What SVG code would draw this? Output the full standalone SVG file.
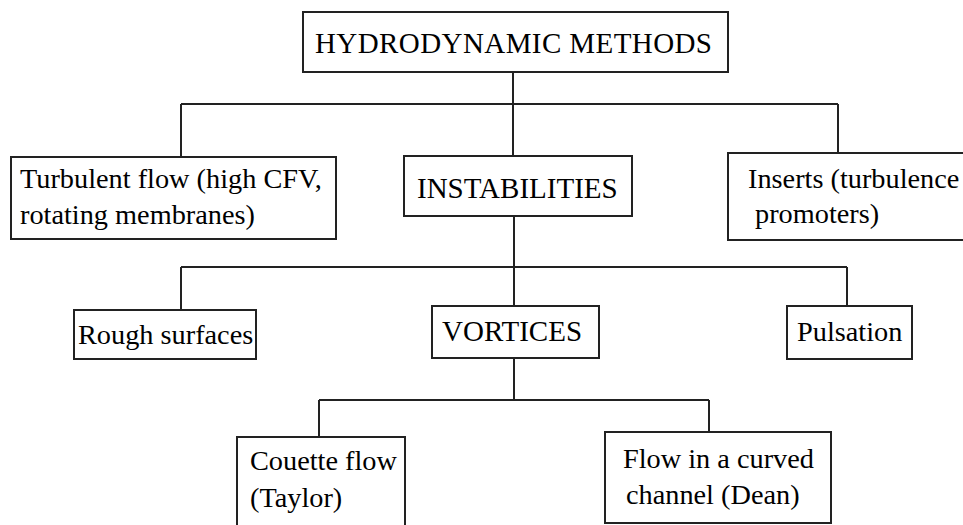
<svg xmlns="http://www.w3.org/2000/svg" width="963" height="525" viewBox="0 0 963 525">
<style>
.box{fill:#fff;stroke:#222;stroke-width:2}
.ln{fill:none;stroke:#222;stroke-width:2}
.t{font-size:28.3px;fill:#000}
.cap{font-size:29px}
</style>
<rect width="963" height="525" fill="#fff"/>
<g id="connectors">
<path class="ln" d="M513 72V104M181 104H838M181 104V157M513 104V156M838 104V153"/>
<path class="ln" d="M514 216V267M181 267H847M181 267V310M514 267V306M847 267V306"/>
<path class="ln" d="M514 358V400M319 400H709M319 400V437M709 400V432"/>
</g>
<g font-family="Liberation Serif, DejaVu Serif, serif" class="t">
<g id="hydrodynamic">
<rect class="box" x="303" y="12" width="425" height="60"/>
<text class="cap" x="315" y="53" textLength="397">HYDRODYNAMIC METHODS</text>
</g>
<g id="turbulent">
<rect class="box" x="11" y="157" width="325" height="82"/>
<text x="20" y="188">Turbulent flow (high CFV,</text>
<text x="20" y="224">rotating membranes)</text>
</g>
<g id="instabilities">
<rect class="box" x="404" y="156" width="228" height="60"/>
<text class="cap" x="417" y="198">INSTABILITIES</text>
</g>
<g id="inserts">
<rect class="box" x="728" y="153" width="245" height="87"/>
<text x="748" y="188">Inserts (turbulence</text>
<text x="755" y="223">promoters)</text>
</g>
<g id="rough">
<rect class="box" x="74" y="310" width="182" height="49"/>
<text x="78" y="344">Rough surfaces</text>
</g>
<g id="vortices">
<rect class="box" x="432" y="306" width="167" height="52"/>
<text class="cap" x="442" y="341">VORTICES</text>
</g>
<g id="pulsation">
<rect class="box" x="787" y="306" width="125" height="53"/>
<text x="797" y="341">Pulsation</text>
</g>
<g id="couette">
<rect class="box" x="237" y="437" width="168" height="100"/>
<text x="250" y="470">Couette flow</text>
<text x="250" y="507">(Taylor)</text>
</g>
<g id="curved">
<rect class="box" x="605" y="432" width="226" height="91"/>
<text x="623" y="468">Flow in a curved</text>
<text x="626" y="504">channel (Dean)</text>
</g>
</g>
</svg>
